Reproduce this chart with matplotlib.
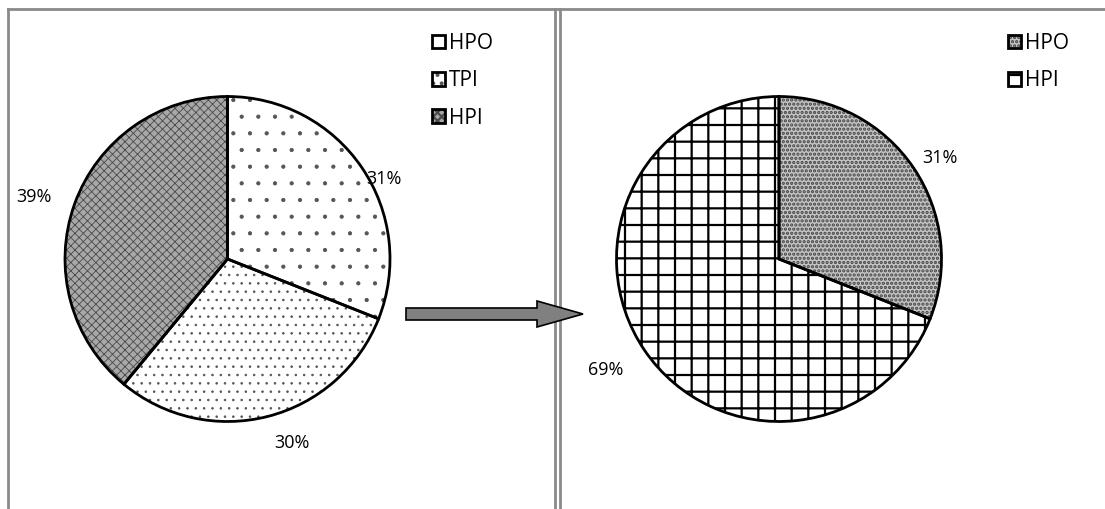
import numpy as np
import matplotlib
matplotlib.use('Agg')
import matplotlib.pyplot as plt
from matplotlib.patches import FancyArrow
from matplotlib.lines import Line2D

plt.rcParams['font.family'] = ['Open Sans', 'DejaVu Sans']

# before: three classes, after: two classes
before_labels = ['HPO', 'TPI', 'HPI']
before_pct = [31, 30, 39]
after_labels = ['HPO', 'HPI']
after_pct = [31, 69]

W, H = 1105, 509
fig = plt.figure(figsize=(W / 100, H / 100), dpi=100)


def px_axes(cx, cy, r):
    # square axes centred on (cx, cy) in pixels from top-left
    return fig.add_axes([(cx - r) / W, (H - cy - r) / H, 2 * r / W, 2 * r / H])


def draw_pie(ax, values, hatches, hcolors, fcolors, lab_dist, lab_nudge):
    # hatched fill first, then black outlines on top
    fills, _ = ax.pie(values, startangle=90, counterclock=False, radius=1,
                      wedgeprops=dict(linewidth=0))
    for w, h, hc, fc in zip(fills, hatches, hcolors, fcolors):
        w.set_facecolor(fc)
        w.set_edgecolor(hc)
        w.set_hatch(h)
    edges, _ = ax.pie(values, startangle=90, counterclock=False, radius=1,
                      wedgeprops=dict(fill=False, edgecolor='black', linewidth=2))
    start = 90.0
    for v, d, n in zip(values, lab_dist, lab_nudge):
        mid = np.deg2rad(start - v * 3.6 / 2 + n)
        ax.text(d * np.cos(mid), d * np.sin(mid), f'{v}%', ha='center',
                va='center', fontsize=13)
        start -= v * 3.6
    ax.set_xlim(-1, 1)
    ax.set_ylim(-1, 1)
    ax.set_aspect('equal')
    ax.axis('off')
    return list(zip(fills, edges))


def add_legend(ax, handles, labels, x, y):
    ax.legend(handles, labels, loc='upper left',
              bbox_to_anchor=(x / W, 1 - y / H), bbox_transform=fig.transFigure,
              frameon=False, fontsize=15, handlelength=0.62, handleheight=0.62,
              handletextpad=0.2, labelspacing=0.78, borderpad=0, borderaxespad=0)


plt.rcParams['hatch.linewidth'] = 0.6
ax1 = px_axes(227.5, 259, 162.5)
h1 = draw_pie(ax1, before_pct, ['.', '..', 'xxxx'],
              ['#555555', '#555555', '#4a4a4a'], ['white', 'white', '#a8a8a8'],
              [1.08, 1.2, 1.25], [-7, 5, 2])

plt.rcParams['hatch.linewidth'] = 1.6
ax2 = px_axes(779, 259, 162.5)
h2 = draw_pie(ax2, after_pct, ['....', '+'],
              ['#444444', 'black'], ['#c4c4c4', 'white'],
              [1.17, 1.27], [-2, -1.5])

# legend handles carry both the hatch and the black outline
add_legend(ax1, h1, before_labels, 432, 33)
add_legend(ax2, h2, after_labels, 1008, 33)

# arrow between the two pies
fig.patches.append(FancyArrow(406 / W, 1 - 314 / H, 177 / W, 0, width=12 / H,
                              head_width=26 / H, head_length=46 / W,
                              length_includes_head=True, transform=fig.transFigure,
                              facecolor='#808080', edgecolor='black', linewidth=1.2,
                              zorder=5))

# panel frame lines
frame = dict(color='#8a8a8a', linewidth=2, transform=fig.transFigure)
fig.add_artist(Line2D([7.5 / W, 1], [1 - 8.5 / H] * 2, **frame))
fig.add_artist(Line2D([7.5 / W] * 2, [0, 1 - 8.5 / H], **frame))
fig.add_artist(Line2D([554.5 / W] * 2, [0, 1 - 8.5 / H], **frame))
fig.add_artist(Line2D([559.5 / W] * 2, [0, 1 - 8.5 / H], **frame))

fig.savefig('out.png', dpi=100)
